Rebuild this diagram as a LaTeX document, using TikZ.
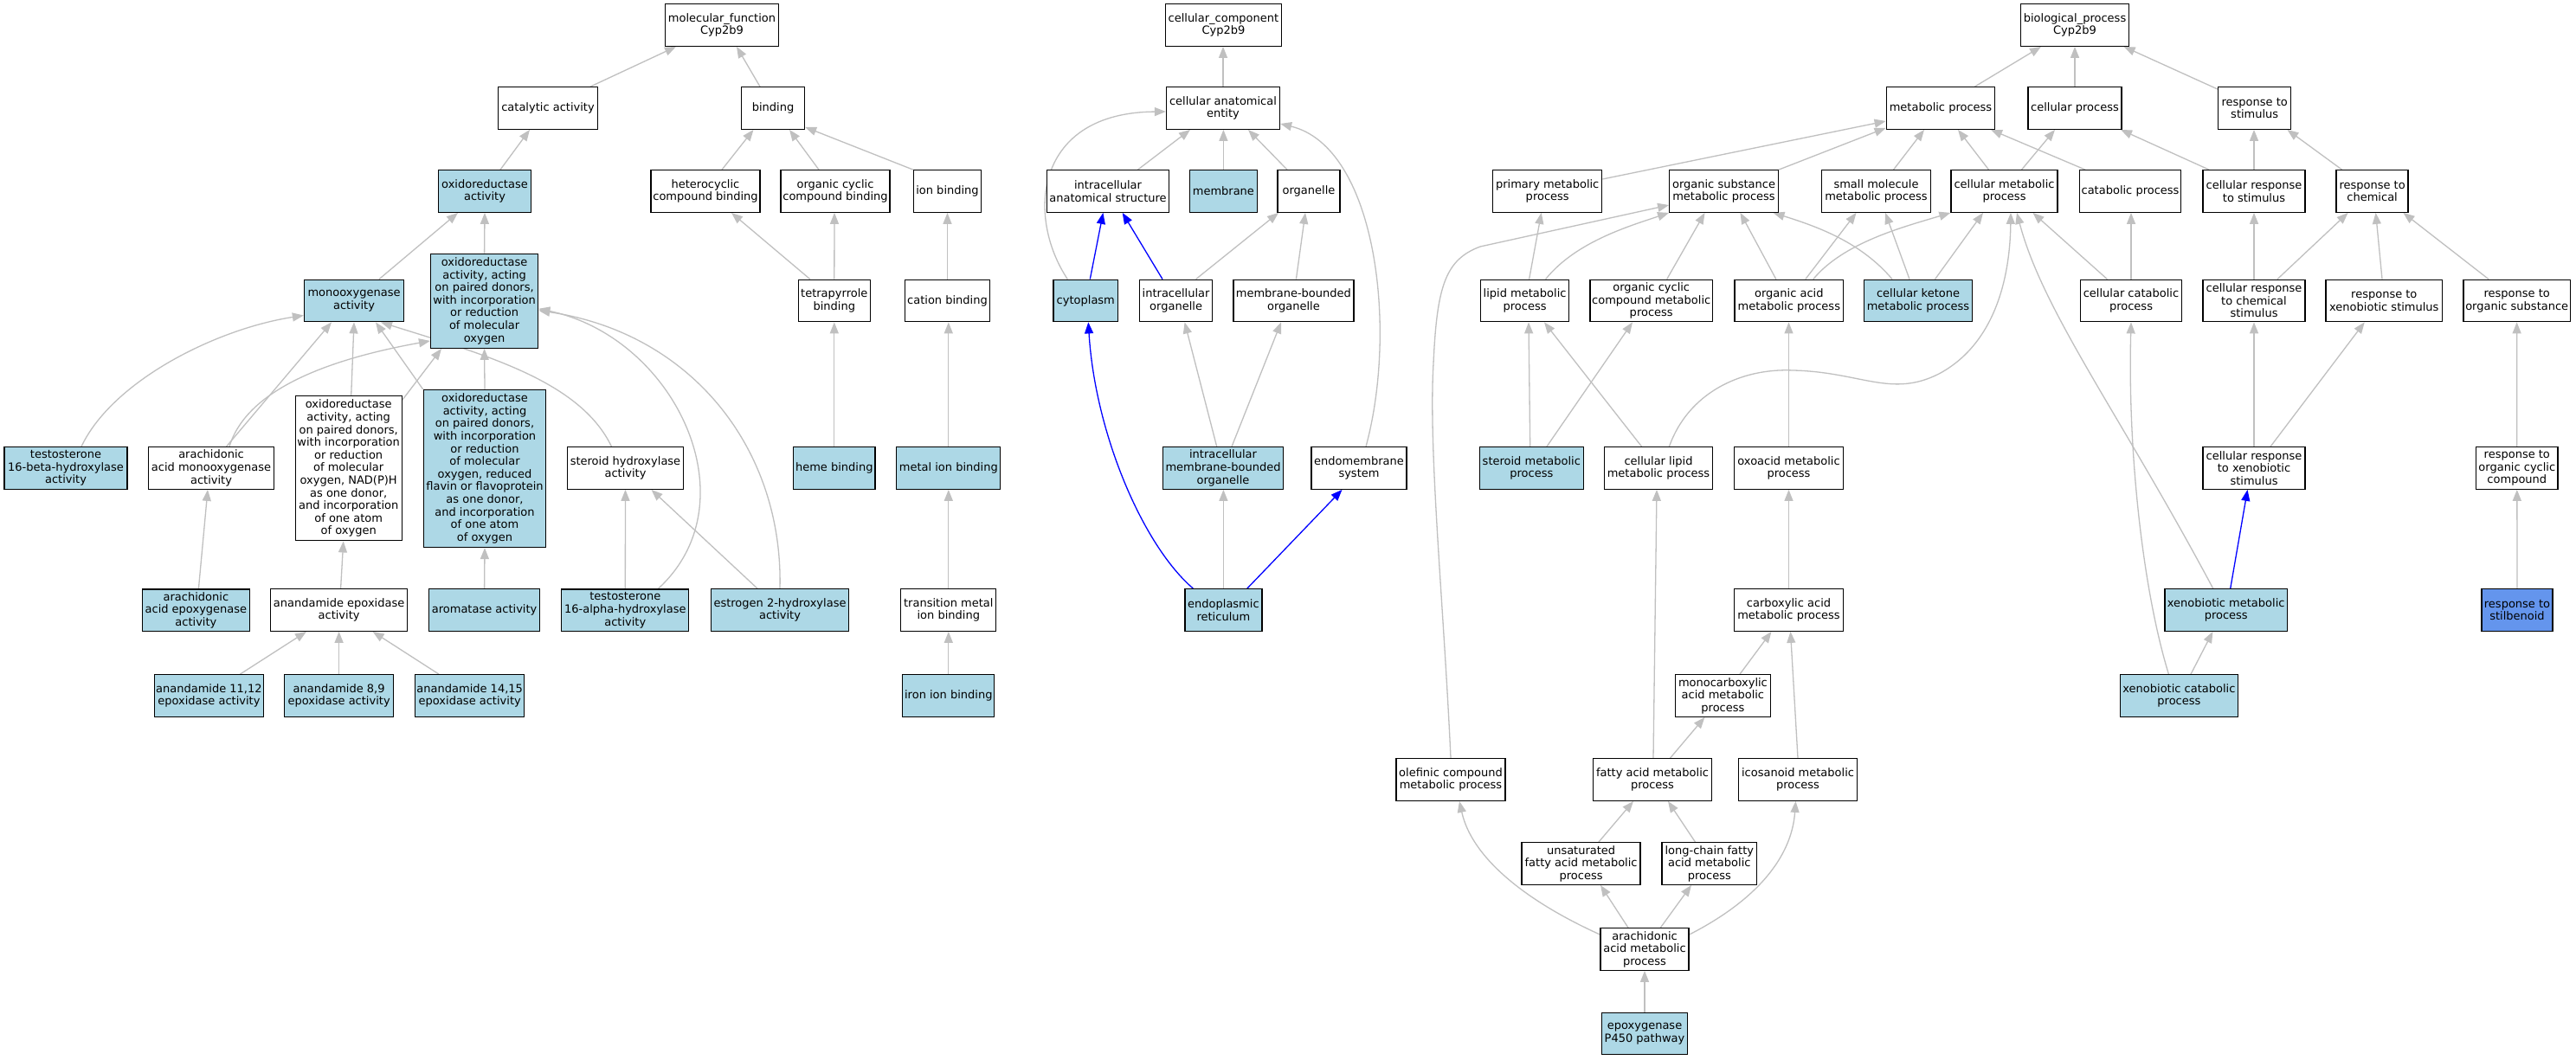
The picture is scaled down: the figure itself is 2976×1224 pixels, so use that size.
\documentclass[tikz,border=0pt]{standalone}
\usepackage{fontspec}
\setmainfont{DejaVu Sans}
\usetikzlibrary{arrows.meta}
\definecolor{lb}{HTML}{ADD8E6}
\definecolor{cfb}{HTML}{6495ED}
\definecolor{eg}{HTML}{C0C0C0}
\pgfdeclarelayer{bg}
\pgfsetlayers{bg,main}
\tikzset{
 gn/.style={draw=black, line width=1.3pt, fill=white, inner sep=0pt, align=center, minimum height=48.5pt, font=\fontsize{13}{14.6}\selectfont},
 hit/.style={fill=lb},
 golink/.style={draw=eg, line width=1.3pt, -{Triangle[length=13pt,width=10pt]}},
 bluelink/.style={draw=blue, line width=1.3pt, -{Triangle[length=13pt,width=10pt]}},
}
\begin{document}
\begin{tikzpicture}[x=1pt,y=-1pt]
\useasboundingbox (0,0) rectangle (2976,1224);
% ---------------- molecular function ----------------
\node[gn,minimum width=131pt] (mf) at (834,29) {molecular\_function\\Cyp2b9};
\node[gn,minimum width=115pt] (cat) at (633,125) {catalytic activity};
\node[gn,minimum width=73pt] (bind) at (893,125) {binding};
\node[gn,hit,minimum width=107pt] (oxr) at (560,221) {oxidoreductase\\activity};
\node[gn,minimum width=126pt] (het) at (815,221) {heterocyclic\\compound binding};
\node[gn,minimum width=126pt] (occb) at (965,221) {organic cyclic\\compound binding};
\node[gn,minimum width=78pt] (ionb) at (1094.5,221) {ion binding};
\node[gn,hit,minimum width=115pt] (mono) at (409,347.5) {monooxygenase\\activity};
\node[gn,hit,minimum width=124pt,minimum height=109pt] (oxp) at (559.6,347.8) {oxidoreductase\\activity, acting\\on paired donors,\\with incorporation\\or reduction\\of molecular\\oxygen};
\node[gn,minimum width=83pt] (tetra) at (963.8,347.5) {tetrapyrrole\\binding};
\node[gn,minimum width=98pt] (cation) at (1094.5,347.5) {cation binding};
\node[gn,hit,minimum width=142pt] (tb) at (76,541) {testosterone\\16-beta-hydroxylase\\activity};
\node[gn,minimum width=145pt] (aamo) at (244,541) {arachidonic\\acid monooxygenase\\activity};
\node[gn,minimum width=123pt,minimum height=167pt] (nadph) at (402.7,541.3) {oxidoreductase\\activity, acting\\on paired donors,\\with incorporation\\or reduction\\of molecular\\oxygen, NAD(P)H\\as one donor,\\and incorporation\\of one atom\\of oxygen};
\node[gn,hit,minimum width=141.5pt,minimum height=182pt] (flav) at (560,541.5) {oxidoreductase\\activity, acting\\on paired donors,\\with incorporation\\or reduction\\of molecular\\oxygen, reduced\\flavin or flavoprotein\\as one donor,\\and incorporation\\of one atom\\of oxygen};
\node[gn,minimum width=134pt] (sterh) at (722.5,541) {steroid hydroxylase\\activity};
\node[gn,hit,minimum width=94.4pt] (heme) at (963.8,541) {heme binding};
\node[gn,hit,minimum width=120pt] (metal) at (1095.8,541) {metal ion binding};
\node[gn,hit,minimum width=124pt] (aaep) at (226.4,705.3) {arachidonic\\acid epoxygenase\\activity};
\node[gn,minimum width=158pt] (anep) at (391.6,705) {anandamide epoxidase\\activity};
\node[gn,hit,minimum width=128pt] (arom) at (559.6,705) {aromatase activity};
\node[gn,hit,minimum width=147pt] (ta) at (722.3,705.3) {testosterone\\16-alpha-hydroxylase\\activity};
\node[gn,hit,minimum width=159.5pt] (e2h) at (901,705) {estrogen 2-hydroxylase\\activity};
\node[gn,minimum width=110pt] (trans) at (1095.8,705) {transition metal\\ion binding};
\node[gn,hit,minimum width=126pt] (an1112) at (241.4,804) {anandamide 11,12\\epoxidase activity};
\node[gn,hit,minimum width=126pt] (an89) at (391.6,804) {anandamide 8,9\\epoxidase activity};
\node[gn,hit,minimum width=126pt] (an1415) at (542.7,804) {anandamide 14,15\\epoxidase activity};
\node[gn,hit,minimum width=106pt] (iron) at (1095.8,804) {iron ion binding};
% ---------------- cellular component ----------------
\node[gn,minimum width=134pt] (cc) at (1413.4,29) {cellular\_component\\Cyp2b9};
\node[gn,minimum width=131pt] (cae) at (1413,125) {cellular anatomical\\entity};
\node[gn,minimum width=141.6pt] (ias) at (1280,221) {intracellular\\anatomical structure};
\node[gn,hit,minimum width=78pt] (memb) at (1413.4,221) {membrane};
\node[gn,minimum width=72pt] (org) at (1512,221) {organelle};
\node[gn,hit,minimum width=74.6pt] (cyto) at (1254.3,347.5) {cytoplasm};
\node[gn,minimum width=84pt] (iorg) at (1358.6,347.5) {intracellular\\organelle};
\node[gn,minimum width=139pt] (mbo) at (1494.4,347.5) {membrane-bounded\\organelle};
\node[gn,hit,minimum width=138.4pt] (imbo) at (1413,541) {intracellular\\membrane-bounded\\organelle};
\node[gn,minimum width=110pt] (endo) at (1570,541) {endomembrane\\system};
\node[gn,hit,minimum width=89pt] (er) at (1413.4,705) {endoplasmic\\reticulum};
% ---------------- biological process ----------------
\node[gn,minimum width=125.6pt] (bp) at (2397,29) {biological\_process\\Cyp2b9};
\node[gn,minimum width=125.6pt] (mp) at (2242,125) {metabolic process};
\node[gn,minimum width=108pt] (cp) at (2397,125) {cellular process};
\node[gn,minimum width=84pt] (rs) at (2604.7,125) {response to\\stimulus};
\node[gn,minimum width=126pt] (pmp) at (1787.7,221) {primary metabolic\\process};
\node[gn,minimum width=125.6pt] (osmp) at (1991.5,221) {organic substance\\metabolic process};
\node[gn,minimum width=125.6pt] (smmp) at (2167.5,221) {small molecule\\metabolic process};
\node[gn,minimum width=123pt] (cmp) at (2315.5,221) {cellular metabolic\\process};
\node[gn,minimum width=117pt] (catp) at (2461,221) {catabolic process};
\node[gn,minimum width=118pt] (crs) at (2604,221) {cellular response\\to stimulus};
\node[gn,minimum width=83pt] (rc) at (2740.6,221) {response to\\chemical};
\node[gn,minimum width=102pt] (lmp) at (1761.6,347.5) {lipid metabolic\\process};
\node[gn,minimum width=141.6pt] (occmp) at (1907.7,347.5) {organic cyclic\\compound metabolic\\process};
\node[gn,minimum width=125.6pt] (oamp) at (2066.8,347.5) {organic acid\\metabolic process};
\node[gn,hit,minimum width=125.6pt] (ckmp) at (2216,347.5) {cellular ketone\\metabolic process};
\node[gn,minimum width=117pt] (ccp) at (2462,347.5) {cellular catabolic\\process};
\node[gn,minimum width=118pt] (crcs) at (2604,347.5) {cellular response\\to chemical\\stimulus};
\node[gn,minimum width=134.6pt] (rxs) at (2754.3,347.5) {response to\\xenobiotic stimulus};
\node[gn,minimum width=123.7pt] (ros) at (2907.7,347.5) {response to\\organic substance};
\node[gn,hit,minimum width=120pt] (stmp) at (1769.3,541) {steroid metabolic\\process};
\node[gn,minimum width=125.6pt] (clmp) at (1916,541) {cellular lipid\\metabolic process};
\node[gn,minimum width=125.6pt] (oxmp) at (2066.5,541) {oxoacid metabolic\\process};
\node[gn,minimum width=118pt] (crxs) at (2604,541) {cellular response\\to xenobiotic\\stimulus};
\node[gn,minimum width=94.4pt] (rocc) at (2907.8,541) {response to\\organic cyclic\\compound};
\node[gn,minimum width=125.6pt] (camp) at (2066.5,705) {carboxylic acid\\metabolic process};
\node[gn,hit,minimum width=141.6pt] (xmp) at (2571.7,705) {xenobiotic metabolic\\process};
\node[gn,fill=cfb,minimum width=82pt] (rstil) at (2908,705) {response to\\stilbenoid};
\node[gn,minimum width=110pt] (mcamp) at (1990.4,804) {monocarboxylic\\acid metabolic\\process};
\node[gn,hit,minimum width=136pt] (xcp) at (2517.4,804) {xenobiotic catabolic\\process};
\node[gn,minimum width=126pt] (olef) at (1676,901) {olefinic compound\\metabolic process};
\node[gn,minimum width=137pt] (famp) at (1909,901) {fatty acid metabolic\\process};
\node[gn,minimum width=136.6pt] (icmp) at (2077,901) {icosanoid metabolic\\process};
\node[gn,minimum width=137pt] (ufamp) at (1826.6,998) {unsaturated\\fatty acid metabolic\\process};
\node[gn,minimum width=109.5pt] (lcfamp) at (1974.8,998) {long-chain fatty\\acid metabolic\\process};
\node[gn,minimum width=102pt] (aamp) at (1900,1097) {arachidonic\\acid metabolic\\process};
\node[gn,hit,minimum width=99pt] (epox) at (1900,1194.5) {epoxygenase\\P450 pathway};

\begin{pgfonlayer}{bg}
\fill[white] (0,0) rectangle (2976,1224);
% MF edges
\draw[golink] ([xshift=49pt]cat.north) -- ([xshift=-53pt]mf.south);
\draw[golink] ([xshift=-15pt]bind.north) -- ([xshift=17pt]mf.south);
\draw[golink] ([xshift=18pt]oxr.north) -- ([xshift=-21pt]cat.south);
\draw[golink] ([xshift=19pt]het.north) -- ([xshift=-22.5pt]bind.south);
\draw[golink] ([xshift=-19pt]occb.north) -- ([xshift=19pt]bind.south);
\draw[golink] (ionb.north west) -- ([yshift=3pt]bind.south east);
\draw[golink] ([xshift=29pt]mono.north) -- ([xshift=-31pt]oxr.south);
\draw[golink] (oxp.north) -- (oxr.south);
\draw[golink] ([xshift=-28pt]tetra.north) -- ([xshift=30pt]het.south);
\draw[golink] (tetra.north) -- ([xshift=-1pt]occb.south);
\draw[golink] (cation.north) -- (ionb.south);
\draw[golink] ([xshift=18pt]tb.north) .. controls (130,440) and (250,380) .. ([yshift=-17pt]mono.west);
\draw[golink] ([xshift=17.5pt]aamo.north) -- ([xshift=-26pt]mono.south);
\draw[golink] ([xshift=21pt]aamo.north) .. controls (285,450) and (380,415) .. ([yshift=9pt]oxp.south west);
\draw[golink] ([xshift=3pt]nadph.north) -- (mono.south);
\draw[golink] ([yshift=-5pt]nadph.north east) -- ([xshift=-49.6pt]oxp.south);
\draw[golink] (flav.north west) -- ([xshift=25pt]mono.south);
\draw[golink] (flav.north) -- (oxp.south);
\draw[golink] ([xshift=-16pt]sterh.north) .. controls (670,440) and (560,410) .. ([xshift=31pt]mono.south);
\draw[golink] ([xshift=38pt]ta.north) .. controls (870,580) and (780,390) .. ([yshift=-9pt]oxp.east);
\draw[golink] (e2h.north) .. controls (905,520) and (800,385) .. ([yshift=-11pt]oxp.east);
\draw[golink] ([xshift=-26pt]e2h.north) -- ([xshift=30pt]sterh.south);
\draw[golink] (ta.north) -- (sterh.south);
\draw[golink] (arom.north) -- (flav.south);
\draw[golink] ([xshift=3pt]aaep.north) -- ([xshift=-4pt]aamo.south);
\draw[golink] ([xshift=2pt]anep.north) -- ([xshift=-6pt]nadph.south);
\draw[golink] ([xshift=36pt]an1112.north) -- ([xshift=-37.6pt]anep.south);
\draw[golink] (an89.north) -- (anep.south);
\draw[golink] ([xshift=-35.7pt]an1415.north) -- ([xshift=39pt]anep.south);
\draw[golink] (heme.north) -- (tetra.south);
\draw[golink] (metal.north) -- ([xshift=1.3pt]cation.south);
\draw[golink] (trans.north) -- (metal.south);
\draw[golink] (iron.north) -- (trans.south);
% CC edges
\draw[golink] (cae.north) -- ([xshift=-0.4pt]cc.south);
\draw[golink] ([xshift=34.5pt]ias.north) -- ([xshift=-38pt]cae.south);
\draw[golink] (memb.north) -- ([xshift=0.4pt]cae.south);
\draw[golink] ([xshift=-25pt]org.north) -- ([xshift=29pt]cae.south);
\draw[golink] ([xshift=-21pt]cyto.north) .. controls (1185,250) and (1195,130) .. ([yshift=-4pt]cae.west);
\draw[bluelink] ([xshift=5pt]cyto.north) -- ([xshift=-5.6pt]ias.south);
\draw[bluelink] ([xshift=-15.6pt]iorg.north) -- ([xshift=16.7pt]ias.south);
\draw[golink] ([xshift=23pt]iorg.north) -- ([xshift=-35pt]org.south);
\draw[golink] ([xshift=3pt]mbo.north) -- ([xshift=-4pt]org.south);
\draw[golink] ([xshift=8pt]endo.north) .. controls (1615,380) and (1590,170) .. ([yshift=-18pt]cae.east);
\draw[golink] ([xshift=-7.3pt]imbo.north) -- ([xshift=10pt]iorg.south);
\draw[golink] ([xshift=10pt]imbo.north) -- ([xshift=-14.4pt]mbo.south);
\draw[bluelink] ([xshift=-35pt]er.north) .. controls (1320,630) and (1265,500) .. ([xshift=3pt]cyto.south);
\draw[golink] (er.north) -- ([xshift=0.4pt]imbo.south);
\draw[bluelink] ([xshift=27.4pt]er.north) -- ([xshift=-19.5pt]endo.south);
% BP edges
\draw[golink] ([xshift=39.4pt]mp.north) -- ([xshift=-39pt]bp.south);
\draw[golink] (cp.north) -- (bp.south);
\draw[golink] ([yshift=-3pt]rs.north west) -- ([xshift=56.6pt]bp.south);
\draw[golink] ([yshift=14pt]pmp.east) -- ([yshift=-15pt]mp.west);
\draw[golink] (osmp.north east) -- ([yshift=2pt]mp.south west);
\draw[golink] ([xshift=20pt]smmp.north) -- ([xshift=-19pt]mp.south);
\draw[golink] ([xshift=-18pt]cmp.north) -- ([xshift=20pt]mp.south);
\draw[golink] ([xshift=20pt]cmp.north) -- ([xshift=-23pt]cp.south);
\draw[golink] ([xshift=-52pt]catp.north) -- ([xshift=58pt]mp.south);
\draw[golink] ([xshift=-52pt]crs.north) -- ([xshift=53pt]cp.south);
\draw[golink] (crs.north) -- ([xshift=-0.7pt]rs.south);
\draw[golink] ([xshift=-35pt]rc.north) -- ([xshift=37.7pt]rs.south);
\draw[golink] ([xshift=5pt]lmp.north) -- ([xshift=-7pt]pmp.south);
\draw[golink] ([xshift=24pt]lmp.north) .. controls (1820,280) and (1880,262) .. (osmp.south west);
\draw[golink] ([xshift=18pt]occmp.north) -- ([xshift=-22pt]osmp.south);
\draw[golink] ([xshift=-15pt]oamp.north) -- ([xshift=19pt]osmp.south);
\draw[golink] ([xshift=19pt]oamp.north) -- ([xshift=-23pt]smmp.south);
\draw[golink] ([xshift=28pt]oamp.north) .. controls (2130,280) and (2200,262) .. (cmp.south west);
\draw[golink] ([xshift=-30pt]ckmp.north) .. controls (2150,280) and (2100,262) .. ([xshift=57pt]osmp.south);
\draw[golink] ([xshift=-10pt]ckmp.north) -- ([xshift=10.5pt]smmp.south);
\draw[golink] ([xshift=19.5pt]ckmp.north) -- ([xshift=-24.5pt]cmp.south);
\draw[golink] (ccp.north) -- ([xshift=1pt]catp.south);
\draw[golink] ([xshift=-27.6pt]ccp.north) -- ([xshift=33pt]cmp.south);
\draw[golink] (crcs.north) -- (crs.south);
\draw[golink] ([xshift=27pt]crcs.north) -- ([xshift=-28pt]rc.south);
\draw[golink] ([xshift=-2.3pt]rxs.north) -- ([xshift=4pt]rc.south);
\draw[golink] ([xshift=-32.7pt]ros.north) -- ([xshift=35.8pt]rc.south);
\draw[golink] ([xshift=-1.6pt]stmp.north) -- ([xshift=4.4pt]lmp.south);
\draw[golink] ([xshift=17.6pt]stmp.north) -- ([xshift=-21.7pt]occmp.south);
\draw[golink] ([xshift=-19.4pt]clmp.north) -- ([xshift=22.4pt]lmp.south);
\draw[golink] ([xshift=12.4pt]clmp.north) .. controls (1950,455) and (2010,425) .. (2072,428)
   .. controls (2150,430) and (2185,460) .. (2240,432)
   .. controls (2300,400) and (2322,330) .. ([xshift=7.5pt]cmp.south);
\draw[golink] (oxmp.north) -- ([xshift=-0.3pt]oamp.south);
\draw[golink] (crxs.north) -- (crcs.south);
\draw[golink] ([xshift=19pt]crxs.north) -- ([xshift=-22.6pt]rxs.south);
\draw[golink] (rocc.north) -- ([xshift=-0.1pt]ros.south);
\draw[golink] (camp.north) -- (oxmp.south);
\draw[golink] ([xshift=-15pt]xmp.north) .. controls (2450,480) and (2360,360) .. ([xshift=14.5pt]cmp.south);
\draw[bluelink] ([xshift=5pt]xmp.north) -- ([xshift=-7.5pt]crxs.south);
\draw[golink] (rstil.north) -- (rocc.south);
\draw[golink] ([xshift=19.6pt]mcamp.north) -- ([xshift=-20pt]camp.south);
\draw[golink] ([xshift=13.6pt]xcp.north) -- ([xshift=-15.3pt]xmp.south);
\draw[golink] ([xshift=-12pt]xcp.north) .. controls (2475,680) and (2458,520) .. (ccp.south);
\draw[golink] ([xshift=1pt]famp.north) -- ([xshift=-2pt]clmp.south);
\draw[golink] ([xshift=20.5pt]famp.north) -- ([xshift=-21pt]mcamp.south);
\draw[golink] (icmp.north) -- ([xshift=2pt]camp.south);
\draw[golink] (olef.north) .. controls (1668,700) and (1650,520) .. (1656,420)
   .. controls (1660,330) and (1670,300) .. (1710,285) -- ([yshift=-16pt]osmp.west);
\draw[golink] ([xshift=20.3pt]ufamp.north) -- ([xshift=-22pt]famp.south);
\draw[golink] ([xshift=-16.3pt]lcfamp.north) -- ([xshift=18pt]famp.south);
\draw[golink] ([xshift=-19pt]aamp.north) -- ([xshift=22.4pt]ufamp.south);
\draw[golink] ([xshift=18.3pt]aamp.north) -- ([xshift=-20.8pt]lcfamp.south);
\draw[golink] ([yshift=17pt]aamp.west) .. controls (1760,1040) and (1700,990) .. ([xshift=10pt]olef.south);
\draw[golink] ([yshift=17pt]aamp.east) .. controls (2030,1040) and (2070,990) .. ([xshift=-2.5pt]icmp.south);
\draw[golink] (epox.north) -- (aamp.south);
\end{pgfonlayer}
\end{tikzpicture}
\end{document}
